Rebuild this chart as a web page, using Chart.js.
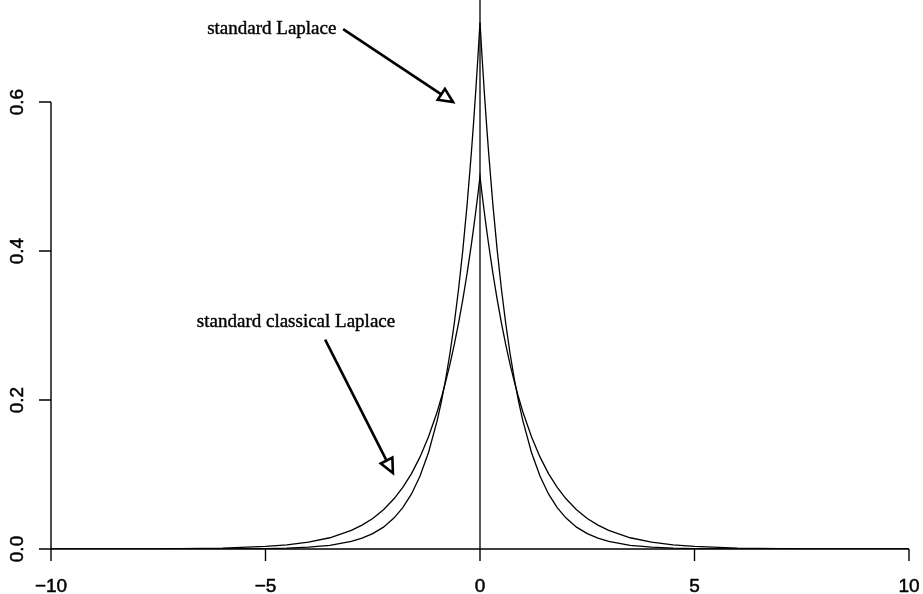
<!DOCTYPE html>
<html>
<head>
<meta charset="utf-8">
<script src="https://cdn.jsdelivr.net/npm/chart.js@4/dist/chart.umd.min.js"></script>
<style>
  html, body { margin: 0; padding: 0; background: #ffffff; }
  #wrap { width: 923px; height: 594px; }
</style>
</head>
<body>
<div id="wrap"><canvas id="c" width="923" height="594"></canvas></div>
<script>
// x positions
const xValues = [-10, -8, -7, -6, -5, -4.5, -4, -3.5, -3, -2.75, -2.5, -2.25, -2, -1.8, -1.6, -1.4, -1.2, -1, -0.9, -0.8, -0.7, -0.6, -0.5, -0.4, -0.3, -0.2, -0.15, -0.1, -0.05, 0,
                 0.05, 0.1, 0.15, 0.2, 0.3, 0.4, 0.5, 0.6, 0.7, 0.8, 0.9, 1, 1.2, 1.4, 1.6, 1.8, 2, 2.25, 2.5, 2.75, 3, 3.5, 4, 4.5, 5, 6, 7, 8, 10];
// standard classical Laplace density
const classicalLaplace = [0.0000, 0.0002, 0.0005, 0.0012, 0.0034, 0.0056, 0.0092, 0.0151, 0.0249, 0.0320, 0.0410, 0.0527, 0.0677, 0.0826, 0.1009, 0.1233, 0.1506, 0.1839, 0.2033, 0.2247, 0.2483, 0.2744, 0.3033, 0.3352, 0.3704, 0.4094, 0.4304, 0.4524, 0.4756, 0.5000,
                          0.4756, 0.4524, 0.4304, 0.4094, 0.3704, 0.3352, 0.3033, 0.2744, 0.2483, 0.2247, 0.2033, 0.1839, 0.1506, 0.1233, 0.1009, 0.0826, 0.0677, 0.0527, 0.0410, 0.0320, 0.0249, 0.0151, 0.0092, 0.0056, 0.0034, 0.0012, 0.0005, 0.0002, 0.0000];
// standard Laplace density
const standardLaplace = [0.0000, 0.0000, 0.00004, 0.00015, 0.0006, 0.0012, 0.0025, 0.0050, 0.0102, 0.0145, 0.0206, 0.0293, 0.0418, 0.0555, 0.0736, 0.0976, 0.1296, 0.1719, 0.1980, 0.2281, 0.2628, 0.3027, 0.3487, 0.4016, 0.4626, 0.5329, 0.5720, 0.6138, 0.6588, 0.7071,
                         0.6588, 0.6138, 0.5720, 0.5329, 0.4626, 0.4016, 0.3487, 0.3027, 0.2628, 0.2281, 0.1980, 0.1719, 0.1296, 0.0976, 0.0736, 0.0555, 0.0418, 0.0293, 0.0206, 0.0145, 0.0102, 0.0050, 0.0025, 0.0012, 0.0006, 0.00015, 0.00004, 0.0000, 0.0000];
// vertical reference line at 0
const vLineX = [0, 0];
const vLineY = [0, 0.74];
// tick labels
const xTicks = [-10, -5, 0, 5, 10];
const xTickLabels = ['\u221210', '\u22125', '0', '5', '10'];
const yTicks = [0, 0.2, 0.4, 0.6];
const yTickLabels = ['0.0', '0.2', '0.4', '0.6'];
// annotations
const annoTexts = ['standard Laplace', 'standard classical Laplace'];

const toPts = (xs, ys) => xs.map((x, i) => ({ x: x, y: ys[i] }));

const annoPlugin = {
  id: 'annoAxes',
  afterDraw(chart) {
    const ctx = chart.ctx;
    const xs = chart.scales.x, ys = chart.scales.y;
    const px = v => xs.getPixelForValue(v);
    const py = v => ys.getPixelForValue(v);
    ctx.save();
    ctx.strokeStyle = '#000';
    ctx.fillStyle = '#000';
    ctx.lineWidth = 1.4;
    // x axis
    ctx.beginPath();
    ctx.moveTo(px(xTicks[0]), py(0));
    ctx.lineTo(px(xTicks[xTicks.length - 1]), py(0));
    xTicks.forEach(t => { ctx.moveTo(px(t), py(0)); ctx.lineTo(px(t), py(0) + 12); });
    ctx.stroke();
    // y axis
    ctx.beginPath();
    ctx.moveTo(px(-10), py(yTicks[0]));
    ctx.lineTo(px(-10), py(yTicks[yTicks.length - 1]));
    yTicks.forEach(t => { ctx.moveTo(px(-10), py(t)); ctx.lineTo(px(-10) - 12, py(t)); });
    ctx.stroke();
    // tick labels
    ctx.font = '19px "Liberation Sans", Arial, sans-serif';
    ctx.textAlign = 'center';
    ctx.textBaseline = 'alphabetic';
    ctx.lineWidth = 0.5;
    xTicks.forEach((t, i) => { ctx.fillText(xTickLabels[i], px(t), py(0) + 43); ctx.strokeText(xTickLabels[i], px(t), py(0) + 43); });
    yTicks.forEach((t, i) => {
      ctx.save();
      ctx.translate(px(-10) - 28, py(t));
      ctx.rotate(-Math.PI / 2);
      ctx.fillText(yTickLabels[i], 0, 0);
      ctx.strokeText(yTickLabels[i], 0, 0);
      ctx.restore();
    });
    // annotation texts
    ctx.font = '19px "Liberation Serif", "Times New Roman", serif';
    ctx.textAlign = 'left';
    ctx.textBaseline = 'middle';
    ctx.lineWidth = 0.4;
    ctx.fillText(annoTexts[0], px(-6.36), py(0.698));
    ctx.strokeText(annoTexts[0], px(-6.36), py(0.698));
    ctx.fillText(annoTexts[1], px(-6.6), py(0.305));
    ctx.strokeText(annoTexts[1], px(-6.6), py(0.305));
    // arrows
    const arrow = (x0, y0, x1, y1) => {
      const a = px(x0), b = py(y0), c = px(x1), d = py(y1);
      const ang = Math.atan2(d - b, c - a);
      const L = 14, W = 6.5;
      const bx = c - L * Math.cos(ang), by = d - L * Math.sin(ang);
      ctx.lineWidth = 2.6;
      ctx.lineJoin = 'miter';
      ctx.beginPath();
      ctx.moveTo(a, b);
      ctx.lineTo(bx, by);
      ctx.stroke();
      ctx.beginPath();
      ctx.moveTo(c, d);
      ctx.lineTo(bx + W * Math.sin(ang), by - W * Math.cos(ang));
      ctx.lineTo(bx - W * Math.sin(ang), by + W * Math.cos(ang));
      ctx.closePath();
      ctx.fillStyle = '#fff';
      ctx.fill();
      ctx.stroke();
      ctx.fillStyle = '#000';
    };
    arrow(-3.19, 0.698, -0.63, 0.600);
    arrow(-3.61, 0.281, -2.03, 0.102);
    ctx.restore();
  }
};

new Chart(document.getElementById('c'), {
  type: 'scatter',
  data: {
    datasets: [
      { data: toPts(xValues, classicalLaplace), showLine: true, borderColor: '#000', borderWidth: 1.3, pointRadius: 0, tension: 0 },
      { data: toPts(xValues, standardLaplace), showLine: true, borderColor: '#000', borderWidth: 1.3, pointRadius: 0, tension: 0 },
      { data: toPts(vLineX, vLineY), showLine: true, borderColor: '#000', borderWidth: 1.3, pointRadius: 0, tension: 0 }
    ]
  },
  options: {
    responsive: false,
    animation: false,
    events: [],
    layout: { padding: { left: 51, right: 14, top: 0, bottom: 45 } },
    plugins: { legend: { display: false }, tooltip: { enabled: false } },
    scales: {
      x: { type: 'linear', min: -10, max: 10, display: false },
      y: { type: 'linear', min: 0, max: 0.737, display: false }
    }
  },
  plugins: [annoPlugin]
});
</script>
</body>
</html>
